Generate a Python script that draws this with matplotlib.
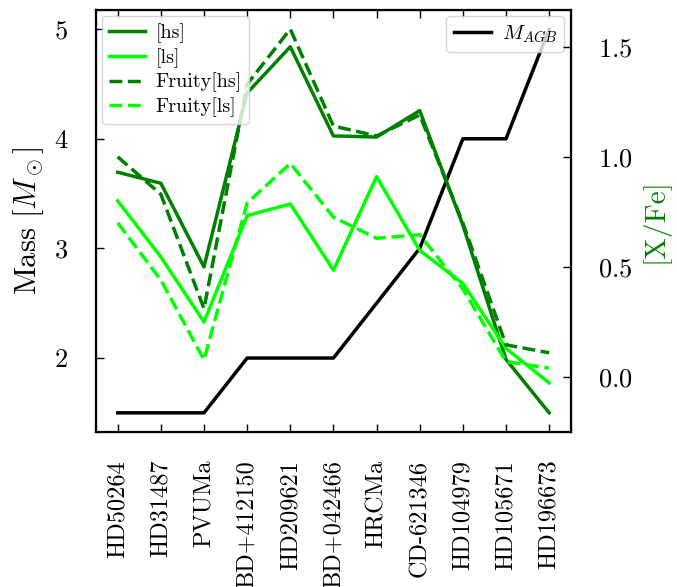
import matplotlib
matplotlib.use("Agg")
import matplotlib.pyplot as plt

plt.rcParams['font.family'] = 'cmr10'
plt.rcParams['mathtext.fontset'] = 'cm'
plt.rcParams['axes.formatter.use_mathtext'] = True

estrelas = ["HD50264", "HD31487", "PVUMa", "BD+412150", "HD209621", "BD+042466",
            "HRCMa", "CD-621346", "HD104979", "HD105671", "HD196673"]
m_agb = [1.5, 1.5, 1.5, 2.0, 2.0, 2.0, 2.5, 3.0, 4.0, 4.0, 5.0]
hs = [0.93, 0.88, 0.50, 1.29, 1.50, 1.095, 1.09, 1.21, 0.69, 0.08, -0.163]
ls = [0.80, 0.545, 0.25, 0.733, 0.786, 0.485, 0.91, 0.575, 0.425, 0.13, -0.027]
fruity_hs = [1.0, 0.83, 0.31, 1.33, 1.58, 1.14, 1.095, 1.19, 0.70, 0.146, 0.11]
fruity_ls = [0.70, 0.44, 0.078, 0.79, 0.97, 0.726, 0.63, 0.646, 0.40, 0.07, 0.04]

x = range(len(estrelas))

fig, ax = plt.subplots(figsize=(6.77, 5.87), dpi=100)
fig.subplots_adjust(left=0.142, right=0.843, top=0.983, bottom=0.264)

ax.plot(x, m_agb, color='black', lw=2.5, label=r'$M_{AGB}$')
ax.set_ylabel(r'Mass [$M_\odot$]', fontsize=22, labelpad=6)
ax.set_xticks(list(x))
ax.set_xticklabels(estrelas, rotation=90, fontsize=17.5)
ax.set_xlim(-0.5, 10.5)
ax.tick_params(axis='y', labelsize=19, direction='in', length=6, width=1, pad=20)
ax.tick_params(axis='x', direction='in', length=6, width=1, top=True, pad=20)
for s in ax.spines.values():
    s.set_linewidth(1.6)
ax.legend(loc='upper right', fontsize=15, labelspacing=0.25, handlelength=1.8,
          handletextpad=0.5, borderpad=0.35, borderaxespad=0.3)

ax2 = ax.twinx()
ax2.plot(x, hs, color='green', lw=2.5, label='[hs]')
ax2.plot(x, ls, color='lime', lw=2.5, label='[ls]')
ax2.plot(x, fruity_hs, color='green', lw=2.5, ls='--', label='Fruity[hs]')
ax2.plot(x, fruity_ls, color='lime', lw=2.5, ls='--', label='Fruity[ls]')
ax2.set_ylabel('[X/Fe]', fontsize=21, color='green', labelpad=5)
ax2.set_yticks([0.0, 0.5, 1.0, 1.5])
ax2.tick_params(axis='y', labelsize=19, direction='in', length=6, width=1, pad=20)
ax2.legend(loc='upper left', fontsize=14.5, labelspacing=0.25, handlelength=1.8,
           handletextpad=0.5, borderpad=0.35, borderaxespad=0.3)

plt.savefig('out.png', dpi=100)
